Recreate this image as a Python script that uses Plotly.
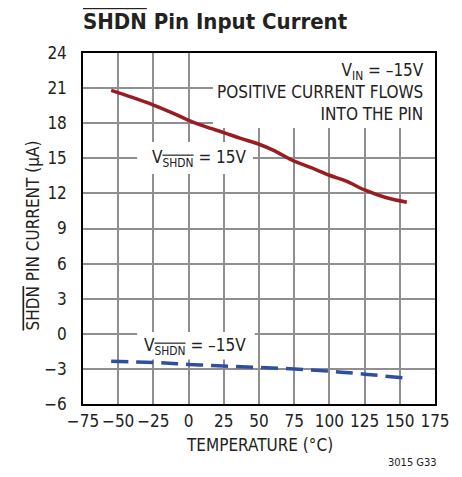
import plotly.graph_objects as go

temp_hi = [-55, -40, -25, -10, 0, 12, 25, 37, 50, 60, 75, 87, 100, 112, 125, 140, 155]
cur_hi = [20.8, 20.2, 19.55, 18.8, 18.25, 17.7, 17.2, 16.7, 16.2, 15.7, 14.75, 14.2, 13.55, 13.05, 12.3, 11.65, 11.25]
temp_lo = [-55, -25, 0, 25, 50, 75, 100, 125, 155]
cur_lo = [-2.35, -2.45, -2.62, -2.75, -2.87, -3.0, -3.2, -3.45, -3.8]
x_ticks = [-75, -50, -25, 0, 25, 50, 75, 100, 125, 150, 175]
y_ticks = [-6, -3, 0, 3, 6, 9, 12, 15, 18, 21, 24]

FONT = "DejaVu Sans Condensed, Roboto, Liberation Sans, sans-serif"
OV = '<span style="text-decoration:overline">SHDN</span>'
TXT = "#222"

fig = go.Figure()
fig.add_trace(go.Scatter(x=temp_hi, y=cur_hi, mode="lines", line=dict(color="#9b1c20", width=3.5, shape="spline"), showlegend=False))
fig.add_trace(go.Scatter(x=temp_lo, y=cur_lo, mode="lines", line=dict(color="#2f4ea0", width=3.5, dash="17px,8px", shape="spline"), showlegend=False))

axis_common = dict(showgrid=True, gridcolor="#8f8f8f", gridwidth=1.5, showline=True, linecolor="black", linewidth=1.5,
                   mirror=True, zeroline=False, tickfont=dict(family=FONT, size=17, color=TXT), ticks="")
fig.update_xaxes(range=[-75, 175], tickvals=x_ticks, ticklabelstandoff=1, **axis_common)
fig.update_yaxes(range=[-6, 24], tickvals=y_ticks, ticklabelstandoff=11, **axis_common)

# white label backgrounds that hide the grid (drawn between grid and traces)
boxes = [(17.3, 175, 17.6, 24), (-36.6, 45.7, 13.66, 16.4), (-36.6, 47, -2.2, 0.15)]
shapes = [dict(type="rect", xref="x", yref="y", x0=a, x1=b, y0=c, y1=d, fillcolor="white", line=dict(width=0), layer="between")
          for a, b, c, d in boxes]

ann = [
    dict(text="<b>" + OV + " Pin Input Current</b>", xref="paper", yref="paper", x=-0.005, y=1.0, yshift=17,
         xanchor="left", yanchor="bottom", showarrow=False, font=dict(family=FONT, size=22, color=TXT)),
    dict(text=OV + " PIN CURRENT (µA)", xref="paper", yref="paper", x=0, xshift=-50, y=0.48, textangle=-90,
         xanchor="center", yanchor="middle", showarrow=False, font=dict(family=FONT, size=17, color=TXT)),
    dict(text="TEMPERATURE (°C)", xref="paper", yref="paper", x=0.5, y=0, yshift=-41,
         xanchor="center", yanchor="middle", showarrow=False, font=dict(family=FONT, size=17, color=TXT)),
    dict(text="3015 G33", xref="paper", yref="paper", x=1.01, y=0, yshift=-58,
         xanchor="right", yanchor="middle", showarrow=False, font=dict(family=FONT, size=11, color=TXT)),
    dict(text="V<sub>IN</sub> = –15V<br>POSITIVE CURRENT FLOWS<br>INTO THE PIN", x=169, y=23.7, xanchor="right", yanchor="top",
         align="right", showarrow=False, borderpad=2, font=dict(family=FONT, size=17, color=TXT)),
    dict(text="V<sub>" + OV + "</sub> = 15V", x=8, y=15, xanchor="center", yanchor="middle", showarrow=False,
         font=dict(family=FONT, size=17, color=TXT)),
    dict(text="V<sub>" + OV + "</sub> = –15V", x=4.5, y=-1.1, xanchor="center", yanchor="middle", showarrow=False,
         font=dict(family=FONT, size=17, color=TXT)),
]

fig.update_layout(width=454, height=469, margin=dict(l=75, r=27, t=45, b=73), plot_bgcolor="white", paper_bgcolor="white",
                  annotations=ann, shapes=shapes, showlegend=False)
fig.write_html("out.html")
